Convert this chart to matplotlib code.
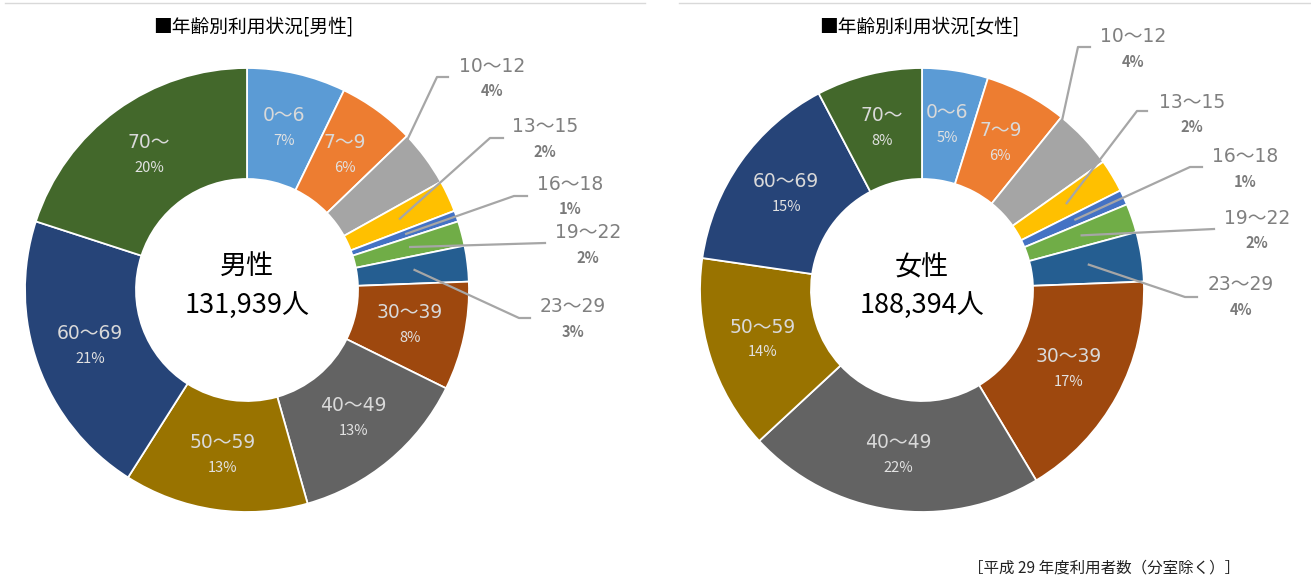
import numpy as np
import matplotlib as mpl; mpl.use("Agg")
import matplotlib.pyplot as plt
from matplotlib.lines import Line2D

plt.rcParams["font.family"] = ["DejaVu Sans", "Noto Sans CJK JP"]
JP = ["Noto Sans CJK JP", "DejaVu Sans"]

# ---- data (share of users by age group, %) ----
AGES = ["0～6", "7～9", "10～12", "13～15", "16～18", "19～22", "23～29",
        "30～39", "40～49", "50～59", "60～69", "70～"]
COLORS = ["#5B9BD5", "#ED7D31", "#A5A5A5", "#FFC000", "#4472C4", "#70AD47",
          "#255E91", "#9E480E", "#636363", "#997300", "#264478", "#43682B"]
MALE = [7.2, 5.6, 4.1, 2.3, 0.8, 1.8, 2.6, 7.9, 13.3, 13.4, 21.0, 20.0]
FEMALE = [4.8, 6.0, 4.4, 2.4, 1.1, 2.1, 3.6, 17.0, 21.7, 14.2, 15.0, 7.7]
MALE_TOTAL = 131939
FEMALE_TOTAL = 188394
OUTSIDE = [2, 3, 4, 5, 6]   # small slices labelled outside the ring

W, H, R = 1311, 575, 222
fig = plt.figure(figsize=(W / 100, H / 100), dpi=100)


def donut(cx, cy, vals, sex, total, labels_px, knees_px):
    ax = fig.add_axes([(cx - R) / W, (H - cy - R) / H, 2 * R / W, 2 * R / H])
    wedges, _ = ax.pie(vals, colors=COLORS, startangle=90, counterclock=False, radius=1,
                       wedgeprops=dict(width=0.5, edgecolor="white", linewidth=1.3))
    ax.set_xlim(-1, 1); ax.set_ylim(-1, 1); ax.axis("off")
    d = lambda x, y: ((x - cx) / R, (cy - y) / R)   # pixel -> data
    k = 0
    for i, w in enumerate(wedges):
        mid = np.deg2rad((w.theta1 + w.theta2) / 2)
        pct = f"{round(vals[i])}%"
        if i not in OUTSIDE:
            x, y = 0.75 * np.cos(mid), 0.75 * np.sin(mid)
            ax.text(x, y + 0.056, AGES[i], ha="center", va="center", fontsize=13.5, color="#D9D9D9")
            ax.text(x, y - 0.058, pct, ha="center", va="center", fontsize=10.5, color="#E2E2E2",
                    family=JP)
            continue
        lx, ly = d(*labels_px[k])
        ax.text(lx, ly, AGES[i], ha="center", va="center", fontsize=13.5, color="#808080", clip_on=False)
        ax.text(lx, ly - 0.113, pct, ha="center", va="center", fontsize=10.5, color="#7A7A7A",
                family=JP, weight="bold", clip_on=False)
        if k == 0:   # 10～12 leader runs to the outer edge of the slice
            a = np.deg2rad(w.theta2 - 1.0); end = (0.98 * np.cos(a), 0.98 * np.sin(a))
        else:
            end = (0.76 * np.cos(mid), 0.76 * np.sin(mid))
        pts = [d(*p) for p in knees_px[k]] + [end]
        ax.add_line(Line2D([p[0] for p in pts], [p[1] for p in pts], color="#A6A6A6",
                           lw=1.6, clip_on=False))
        k += 1
    ax.text(0, 0.1, sex, ha="center", va="center", fontsize=19.5, family=JP)
    ax.text(0, -0.07, f"{total:,}人", ha="center", va="center", fontsize=19.5, family=JP)
    return ax


donut(247, 290, MALE, "男性", MALE_TOTAL,
      [(492, 66), (545, 127), (570, 184), (588, 233), (573, 307)],
      [[(448, 77), (437, 77)], [(503, 138), (490, 138)], [(527, 196), (514, 196)],
       [(545, 243)], [(530, 318), (519, 318)]])
donut(922, 290, FEMALE, "女性", FEMALE_TOTAL,
      [(1133, 37), (1192, 102), (1245, 157), (1257, 218), (1241, 285)],
      [[(1090, 47), (1078, 47)], [(1147, 111), (1137, 111)], [(1202, 167), (1190, 167)],
       [(1214, 229)], [(1197, 297), (1185, 297)]])

fig.text(253 / W, 1 - 27 / H, "■年齢別利用状況[男性]", ha="center", va="center", fontsize=13.5,
         family=JP)
fig.text(919 / W, 1 - 27 / H, "■年齢別利用状況[女性]", ha="center", va="center", fontsize=13.5,
         family=JP)
fig.add_artist(Line2D([5 / W, 645 / W], [1 - 2.5 / H] * 2, color="#D9D9D9", lw=1))
fig.add_artist(Line2D([679 / W, 1], [1 - 2.5 / H] * 2, color="#D9D9D9", lw=1))
fig.text(1104 / W, 1 - 568 / H, "［平成 29 年度利用者数（分室除く）］", ha="center", va="center",
         fontsize=11.2, color="#222222", family=JP)

fig.savefig("out.png", dpi=100)
